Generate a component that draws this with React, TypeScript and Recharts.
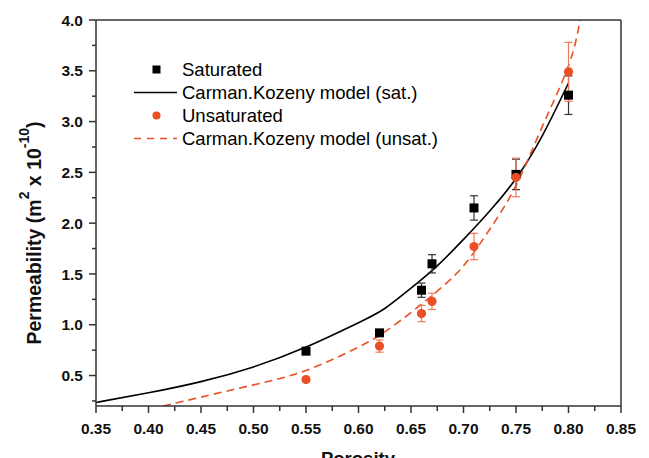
import React from 'react';
import {
  ComposedChart,
  Line,
  Scatter,
  ErrorBar,
  XAxis,
  YAxis,
  Legend,
} from 'recharts';

// measured points
const POROSITY = [0.55, 0.62, 0.66, 0.67, 0.71, 0.75, 0.8];
const SAT_PERM = [0.74, 0.92, 1.34, 1.6, 2.15, 2.48, 3.26];
const SAT_ERR = [0.02, 0.03, 0.07, 0.09, 0.12, 0.15, 0.19];
const UNSAT_PERM = [0.46, 0.79, 1.11, 1.23, 1.77, 2.45, 3.49];
const UNSAT_ERR = [0.02, 0.06, 0.08, 0.08, 0.13, 0.19, 0.29];

// model curves
const SAT_FIT_X = [0.35, 0.4, 0.45, 0.5, 0.55, 0.6, 0.625, 0.65, 0.675, 0.7, 0.725, 0.75, 0.775, 0.8];
const SAT_FIT_Y = [0.235, 0.33, 0.44, 0.585, 0.78, 1.02, 1.16, 1.36, 1.58, 1.84, 2.12, 2.44, 2.86, 3.38];
const UNSAT_FIT_X = [0.414, 0.45, 0.5, 0.55, 0.6, 0.625, 0.65, 0.675, 0.7, 0.725, 0.75, 0.775, 0.8, 0.811];
const UNSAT_FIT_Y = [0.2, 0.287, 0.408, 0.55, 0.78, 0.93, 1.12, 1.33, 1.58, 1.94, 2.37, 2.95, 3.55, 4.0];

const X_TICKS = [
  0.35, 0.375, 0.4, 0.425, 0.45, 0.475, 0.5, 0.525, 0.55, 0.575, 0.6, 0.625, 0.65, 0.675, 0.7,
  0.725, 0.75, 0.775, 0.8, 0.825, 0.85,
];
const Y_TICKS = [0.25, 0.5, 0.75, 1, 1.25, 1.5, 1.75, 2, 2.25, 2.5, 2.75, 3, 3.25, 3.5, 3.75, 4];

const LEGEND_ITEMS = [
  { label: 'Saturated', kind: 'square' },
  { label: 'Carman.Kozeny model (sat.)', kind: 'solid' },
  { label: 'Unsaturated', kind: 'circle' },
  { label: 'Carman.Kozeny model (unsat.)', kind: 'dashed' },
];

const ORANGE = '#ea4f26';
const ORANGE_BAR = '#f0785a';
const FONT = '"Liberation Sans", Arial, sans-serif';
const AXIS = '#333';

const satPoints = POROSITY.map((x, i) => ({ x, y: SAT_PERM[i], err: SAT_ERR[i] }));
const unsatPoints = POROSITY.map((x, i) => ({ x, y: UNSAT_PERM[i], err: UNSAT_ERR[i] }));
const satFit = SAT_FIT_X.map((x, i) => ({ x, y: SAT_FIT_Y[i] }));
const unsatFit = UNSAT_FIT_X.map((x, i) => ({ x, y: UNSAT_FIT_Y[i] }));

const XTick = (props: any) => {
  const { x, y, payload } = props;
  const v = payload.value;
  const major = Math.round(v * 1000) % 50 === 0;
  return (
    <g>
      <line x1={x} y1={y} x2={x} y2={y + (major ? 7 : 5)} stroke={AXIS} strokeWidth={1.5} />
      {major && (
        <text x={x} y={y + 28} textAnchor="middle" fontSize={15.5} fontWeight="bold" fontFamily={FONT} fill="#111">
          {v.toFixed(2)}
        </text>
      )}
    </g>
  );
};

const YTick = (props: any) => {
  const { x, y, payload } = props;
  const v = payload.value;
  const major = Math.round(v * 100) % 50 === 0;
  return (
    <g>
      <line x1={x} y1={y} x2={x - (major ? 7 : 4)} y2={y} stroke={AXIS} strokeWidth={1.5} />
      {major && (
        <text x={x - 13} y={y} dy="0.36em" textAnchor="end" fontSize={15.5} fontWeight="bold" fontFamily={FONT} fill="#111">
          {v.toFixed(1)}
        </text>
      )}
    </g>
  );
};

const YTitle = () => (
  <text
    x={41}
    y={233}
    transform="rotate(-90, 41, 233)"
    textAnchor="middle"
    fontSize={19.5}
    fontWeight="bold"
    fontFamily={FONT}
    fill="#111"
  >
    Permeability (m
    <tspan dy={-12} fontSize={14}>2</tspan>
    <tspan dy={12}> x 10</tspan>
    <tspan dy={-12} fontSize={14}>-10</tspan>
    <tspan dy={12}>)</tspan>
  </text>
);

const XTitle = () => (
  <text x={358} y={465} textAnchor="middle" fontSize={18.5} fontWeight="bold" fontFamily={FONT} fill="#111">
    Porosity
  </text>
);

const square = (props: any) => (
  <rect x={props.cx - 4.5} y={props.cy - 4.5} width={9} height={9} fill="#000" />
);
const dot = (props: any) => <circle cx={props.cx} cy={props.cy} r={4.6} fill={ORANGE} />;

const LegendBox = () => (
  <div style={{ fontFamily: FONT, fontSize: 18.5, color: '#000', lineHeight: '23.2px' }}>
    {LEGEND_ITEMS.map((it) => (
      <div key={it.label} style={{ display: 'flex', alignItems: 'center', height: 23.2 }}>
        <svg width={48} height={23} style={{ display: 'block' }}>
          {it.kind === 'square' && <rect x={18.5} y={7.5} width={8} height={8} fill="#000" />}
          {it.kind === 'circle' && <circle cx={22.5} cy={11.5} r={4} fill={ORANGE} />}
          {it.kind === 'solid' && <line x1={0} y1={11.5} x2={43} y2={11.5} stroke="#000" strokeWidth={1.3} />}
          {it.kind === 'dashed' && (
            <line x1={0} y1={11.5} x2={43} y2={11.5} stroke={ORANGE} strokeWidth={1.3} strokeDasharray="7 6" />
          )}
        </svg>
        <span style={{ whiteSpace: 'nowrap', marginLeft: 0 }}>{it.label}</span>
      </div>
    ))}
  </div>
);

export default function App() {
  return (
    <div style={{ position: 'absolute', left: 0, top: 0, width: 649, height: 458, background: '#fff' }}>
      <ComposedChart width={649} height={458} margin={{ top: 19, right: 27, bottom: 22, left: 0 }}>
        <XAxis
          xAxisId="top"
          orientation="top"
          type="number"
          domain={[0.35, 0.85]}
          height={1}
          tick={false}
          axisLine={{ stroke: AXIS, strokeWidth: 1.5 }}
          tickLine={false}
        />
        <YAxis
          yAxisId="right"
          orientation="right"
          type="number"
          domain={[0.2, 4]}
          width={1}
          tick={false}
          axisLine={{ stroke: AXIS, strokeWidth: 1.5 }}
          tickLine={false}
        />
        <XAxis
          dataKey="x"
          type="number"
          domain={[0.35, 0.85]}
          ticks={X_TICKS}
          interval={0}
          height={30}
          tick={<XTick />}
          tickSize={0}
          tickMargin={0}
          tickLine={false}
          axisLine={{ stroke: AXIS, strokeWidth: 1.5 }}
          allowDataOverflow
          label={{ content: () => <XTitle /> }}
        />
        <YAxis
          dataKey="y"
          type="number"
          domain={[0.2, 4]}
          ticks={Y_TICKS}
          interval={0}
          width={96}
          tick={<YTick />}
          tickSize={0}
          tickMargin={0}
          tickLine={false}
          axisLine={{ stroke: AXIS, strokeWidth: 1.5 }}
          allowDataOverflow
          label={{ content: () => <YTitle /> }}
        />
        <Legend
          layout="vertical"
          align="center"
          verticalAlign="middle"
          content={() => <LegendBox />}
          wrapperStyle={{ position: 'absolute', left: 134, top: 57.5, width: 320, height: 'auto' }}
        />
        <Line
          data={satFit}
          dataKey="y"
          type="natural"
          stroke="#000"
          strokeWidth={1.6}
          dot={false}
          activeDot={false}
          isAnimationActive={false}
        />
        <Line
          data={unsatFit}
          dataKey="y"
          type="natural"
          stroke={ORANGE}
          strokeWidth={1.6}
          strokeDasharray="8 5"
          dot={false}
          activeDot={false}
          isAnimationActive={false}
        />
        <Scatter data={satPoints} dataKey="y" shape={square} isAnimationActive={false}>
          <ErrorBar dataKey="err" direction="y" width={4} stroke="#333" strokeWidth={1.2} />
        </Scatter>
        <Scatter data={unsatPoints} dataKey="y" shape={dot} isAnimationActive={false}>
          <ErrorBar dataKey="err" direction="y" width={4} stroke={ORANGE_BAR} strokeWidth={1.2} />
        </Scatter>
      </ComposedChart>
    </div>
  );
}
